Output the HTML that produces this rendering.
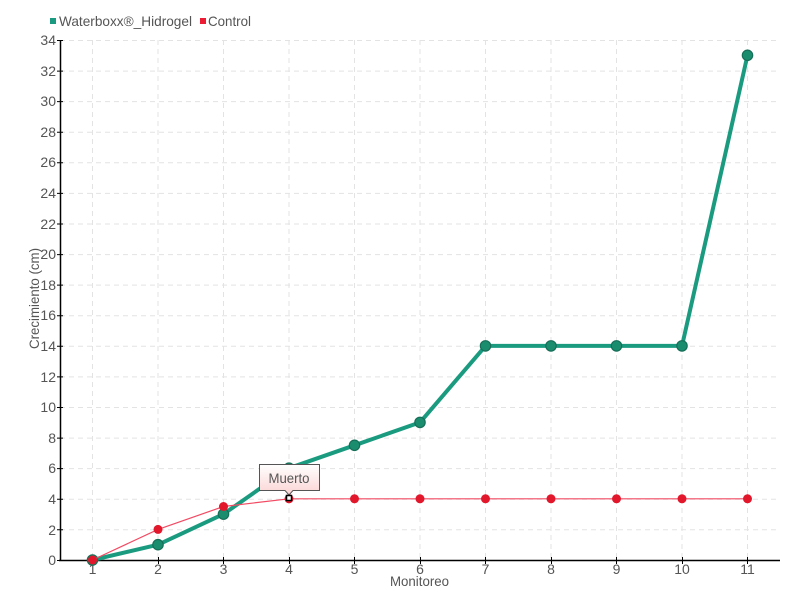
<!DOCTYPE html>
<html><head><meta charset="utf-8"><style>
html,body{margin:0;padding:0;background:#fff;width:800px;height:600px;overflow:hidden}
svg{display:block}
text{font-family:"Liberation Sans",sans-serif;fill:#555}
</style></head><body>
<svg width="800" height="600" viewBox="0 0 800 600" xmlns="http://www.w3.org/2000/svg">
<defs>
<linearGradient id="tg" x1="0" y1="0" x2="0" y2="1"><stop offset="0" stop-color="#ffffff"/><stop offset="1" stop-color="#fbd3d3"/></linearGradient>
</defs>
<!-- grid -->
<g stroke="#e3e3e3" stroke-width="1" stroke-dasharray="5,4" fill="none">
<path d="M60 40.5H780M60 71.1H780M60 101.6H780M60 132.2H780M60 162.8H780M60 193.4H780M60 224H780M60 254.6H780M60 285.1H780M60 315.7H780M60 346.3H780M60 376.9H780M60 407.5H780M60 438.1H780M60 468.6H780M60 499.2H780M60 529.8H780"/>
<path d="M92.5 40V560M158 40V560M223.5 40V560M289 40V560M354.5 40V560M420 40V560M485.5 40V560M551 40V560M616.5 40V560M682 40V560M747.5 40V560"/>
</g>
<!-- axes -->
<g stroke="#000" stroke-width="1.5" fill="none">
<path d="M60.5 40V561M59 560.5H780"/>
</g>
<g stroke="#000" stroke-width="1" fill="none">
<path d="M57 40.5H63M57 71.1H63M57 101.6H63M57 132.2H63M57 162.8H63M57 193.4H63M57 224H63M57 254.6H63M57 285.1H63M57 315.7H63M57 346.3H63M57 376.9H63M57 407.5H63M57 438.1H63M57 468.6H63M57 499.2H63M57 529.8H63M57 560.5H63"/>
<path d="M92.5 557V564M158.5 557V564M223.5 557V564M289.5 557V564M354.5 557V564M420.5 557V564M485.5 557V564M551.5 557V564M616.5 557V564M682.5 557V564M747.5 557V564"/>
</g>
<!-- y labels -->
<g font-size="14" text-anchor="end">
<text x="56" y="45">34</text><text x="56" y="76">32</text><text x="56" y="106">30</text><text x="56" y="137">28</text><text x="56" y="167">26</text><text x="56" y="198">24</text><text x="56" y="229">22</text><text x="56" y="259">20</text><text x="56" y="290">18</text><text x="56" y="320">16</text><text x="56" y="351">14</text><text x="56" y="382">12</text><text x="56" y="412">10</text><text x="56" y="443">8</text><text x="56" y="473">6</text><text x="56" y="504">4</text><text x="56" y="535">2</text><text x="56" y="565">0</text>
</g>
<!-- x labels -->
<g font-size="14" text-anchor="middle">
<text x="92.5" y="574">1</text><text x="158" y="574">2</text><text x="223.5" y="574">3</text><text x="289" y="574">4</text><text x="354.5" y="574">5</text><text x="420" y="574">6</text><text x="485.5" y="574">7</text><text x="551" y="574">8</text><text x="616.5" y="574">9</text><text x="682" y="574">10</text><text x="747.5" y="574">11</text>
</g>
<text x="390" y="586" font-size="14" textLength="59" lengthAdjust="spacingAndGlyphs">Monitoreo</text>
<text transform="translate(39,349) rotate(-90)" font-size="14" textLength="101" lengthAdjust="spacingAndGlyphs">Crecimiento (cm)</text>
<!-- legend -->
<rect x="50" y="18" width="6" height="6" fill="#1a9a80"/>
<text x="59" y="26" font-size="14" textLength="133" lengthAdjust="spacingAndGlyphs">Waterboxx®_Hidrogel</text>
<rect x="200" y="18" width="6" height="6" fill="#ec1c34"/>
<text x="208" y="26" font-size="14" textLength="43" lengthAdjust="spacingAndGlyphs">Control</text>
<!-- green series -->
<polyline fill="none" stroke="#1a9b80" stroke-width="4" stroke-linejoin="round" points="92.5,560 158,544.7 223.5,514.1 289,468.2 354.5,445.3 420,422.4 485.5,345.9 551,345.9 616.5,345.9 682,345.9 747.5,55.3"/>
<g fill="#1b8d6f" stroke="#166f58" stroke-width="1.2">
<circle cx="158" cy="544.7" r="5.2"/><circle cx="223.5" cy="514.1" r="5.2"/><circle cx="289" cy="468.2" r="5.2"/><circle cx="354.5" cy="445.3" r="5.2"/><circle cx="420" cy="422.4" r="5.2"/><circle cx="485.5" cy="345.9" r="5.2"/><circle cx="551" cy="345.9" r="5.2"/><circle cx="616.5" cy="345.9" r="5.2"/><circle cx="682" cy="345.9" r="5.2"/><circle cx="747.5" cy="55.3" r="5.2"/>
<circle cx="92.5" cy="560" r="5.2"/>
</g>
<!-- red series -->
<polyline fill="none" stroke="#f24a63" stroke-width="1.2" points="92.5,560 158,529.4 223.5,506.5 289,498.8 354.5,498.8 420,498.8 485.5,498.8 551,498.8 616.5,498.8 682,498.8 747.5,498.8"/>
<g fill="#e3172c">
<circle cx="92.5" cy="560" r="4.5"/><circle cx="158" cy="529.4" r="4.5"/><circle cx="223.5" cy="506.5" r="4.5"/><circle cx="289" cy="498.8" r="4.5"/><circle cx="354.5" cy="498.8" r="4.5"/><circle cx="420" cy="498.8" r="4.5"/><circle cx="485.5" cy="498.8" r="4.5"/><circle cx="551" cy="498.8" r="4.5"/><circle cx="616.5" cy="498.8" r="4.5"/><circle cx="682" cy="498.8" r="4.5"/><circle cx="747.5" cy="498.8" r="4.5"/>
</g>
<!-- tooltip -->
<path d="M259.5 464.5H319.5V490.5H293L289 495L285 490.5H259.5Z" fill="url(#tg)" stroke="#555" stroke-width="1"/>
<text x="289" y="483" font-size="14" text-anchor="middle" textLength="41" lengthAdjust="spacingAndGlyphs">Muerto</text>
<rect x="286.5" y="495.5" width="5" height="5" fill="#fff" stroke="#000" stroke-width="1.5"/>
</svg>
</body></html>
